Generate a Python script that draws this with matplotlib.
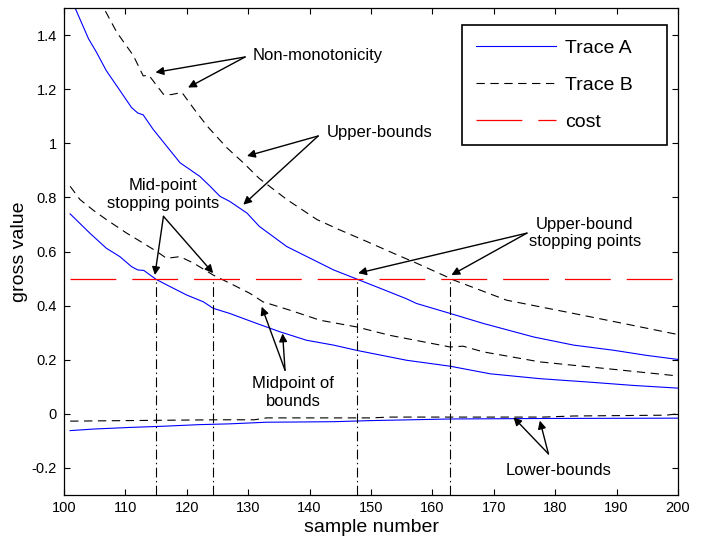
import matplotlib
matplotlib.use("Agg")
import matplotlib.pyplot as plt
from matplotlib.lines import Line2D

plt.rcParams['font.family'] = ['Liberation Sans', 'DejaVu Sans']
plt.rcParams['lines.scale_dashes'] = False

# ---------------- data ----------------
a_up_x = [101, 102, 104, 105.3, 106.9, 108.6, 111.0, 112.0, 112.9, 114.5, 116.7, 118.9, 120.5,
          122.1, 123.8, 125.4, 127.0, 129.8, 131.8, 136.3, 140.1, 143.9, 147.7, 151.5, 155.8,
          157.4, 162.9, 168.3, 176.5, 183.0, 189.5, 194.9, 200]
a_up_y = [1.54, 1.49, 1.386, 1.336, 1.268, 1.212, 1.132, 1.112, 1.105, 1.052, 0.99, 0.928, 0.903,
          0.878, 0.841, 0.804, 0.785, 0.742, 0.693, 0.618, 0.575, 0.532, 0.498, 0.464, 0.425,
          0.408, 0.371, 0.334, 0.284, 0.254, 0.235, 0.216, 0.201]

a_mid_x = [101, 104.2, 106.9, 109.1, 111.0, 112.0, 113.0, 115.0, 117.3, 120.0, 122.7, 124.3, 127.0,
           131.4, 135.2, 139.5, 143.9, 147.8, 155.8, 162.9, 169.4, 177.5, 185.7, 192.7, 200]
a_mid_y = [0.739, 0.668, 0.612, 0.581, 0.544, 0.532, 0.530, 0.497, 0.470, 0.439, 0.414, 0.390, 0.371,
           0.334, 0.303, 0.272, 0.254, 0.234, 0.198, 0.176, 0.148, 0.130, 0.117, 0.105, 0.095]

a_low_x = [101, 105, 111, 116, 122, 127, 133, 139, 144, 150, 163, 180, 200]
a_low_y = [-0.062, -0.056, -0.050, -0.046, -0.040, -0.037, -0.031, -0.030, -0.029, -0.025,
           -0.019, -0.017, -0.016]

b_up_x = [105, 106.4, 108.6, 111.3, 112.9, 113.8, 116.2, 117.5, 119.2, 121.2, 123.3, 126.5, 129.2,
          131.8, 136.3, 141.2, 144.9, 149.3, 153.6, 157.4, 162.3, 163.4, 172.1, 183.0, 191.1, 200]
b_up_y = [1.56, 1.503, 1.41, 1.324, 1.249, 1.252, 1.181, 1.180, 1.188, 1.126, 1.064, 0.984, 0.928,
          0.870, 0.792, 0.718, 0.680, 0.637, 0.594, 0.557, 0.507, 0.495, 0.420, 0.371, 0.334, 0.293]

b_mid_x = [101, 102.6, 104.8, 106.9, 110.2, 112.9, 115.1, 116.7, 118.9, 121.1, 124.3, 127.6, 130.3,
           132.4, 136.8, 141.7, 147.7, 153.1, 162.9, 165.0, 168.3, 177.5, 188.4, 200]
b_mid_y = [0.841, 0.792, 0.752, 0.718, 0.668, 0.631, 0.600, 0.575, 0.581, 0.557, 0.513, 0.476, 0.445,
           0.414, 0.383, 0.346, 0.321, 0.290, 0.247, 0.250, 0.229, 0.192, 0.167, 0.140]

b_low_x = [101, 115, 125, 131, 133, 150, 153, 178, 183, 198, 200]
b_low_y = [-0.027, -0.024, -0.022, -0.022, -0.015, -0.015, -0.012, -0.012, -0.008, -0.005, 0.0]

cost_value = 0.5
stop_x = [115.0, 124.3, 147.8, 162.9]

x_ticks = [100, 110, 120, 130, 140, 150, 160, 170, 180, 190, 200]
y_ticks = [-0.2, 0, 0.2, 0.4, 0.6, 0.8, 1, 1.2, 1.4]
y_ticklabels = ['-0.2', '0', '0.2', '0.4', '0.6', '0.8', '1', '1.2', '1.4']

labels = {
    'nonmono': 'Non-monotonicity',
    'upper': 'Upper-bounds',
    'midstop': 'Mid-point\nstopping points',
    'midb': 'Midpoint of\nbounds',
    'upstop': 'Upper-bound\nstopping points',
    'lower': 'Lower-bounds',
}

# ---------------- figure ----------------
fig = plt.figure(figsize=(7.04, 5.38), dpi=100)
ax = fig.add_axes([64 / 704, 1 - 495 / 538, 614 / 704, 487 / 538])

blue = '#0000ff'
dash_b = (0, (6, 4))
lw = 0.8

ax.plot(a_up_x, a_up_y, color=blue, lw=lw)
ax.plot(a_mid_x, a_mid_y, color=blue, lw=lw)
ax.plot(a_low_x, a_low_y, color=blue, lw=lw)
ax.plot(b_up_x, b_up_y, color='k', lw=lw, linestyle=dash_b)
ax.plot(b_mid_x, b_mid_y, color='k', lw=lw, linestyle=dash_b)
ax.plot(b_low_x, b_low_y, color='k', lw=lw, linestyle=dash_b)

cost_ls = (0, (33, 11.5))
ax.plot([101, 200], [cost_value, cost_value], color='red', lw=0.9, linestyle=cost_ls)

for sx in stop_x:
    ax.plot([sx, sx], [-0.3, cost_value], color='k', lw=lw, linestyle=(0, (7, 2.5, 1, 2.5)))

ax.set_xlim(100, 200)
ax.set_ylim(-0.3, 1.5)
ax.set_xticks(x_ticks)
ax.set_xticklabels([str(t) for t in x_ticks])
ax.set_yticks(y_ticks)
ax.set_yticklabels(y_ticklabels)
ax.tick_params(direction='in', top=True, right=True, length=4, width=0.8, labelsize=10.5)
ax.tick_params(axis='x', pad=4)
ax.tick_params(axis='y', pad=5)
for s in ax.spines.values():
    s.set_linewidth(0.9)

ax.set_xlabel('sample number', fontsize=14, va='center')
ax.xaxis.set_label_coords(0.5, (495 - 528) / 487)
ax.set_ylabel('gross value', fontsize=14, va='center')
ax.yaxis.set_label_coords((20 - 64) / 614, 0.5)

# annotations
afs = 12
ap = dict(arrowstyle='-|>', color='k', lw=1.0, mutation_scale=12, shrinkA=0, shrinkB=0)

def arrows(tail, heads):
    for h in heads:
        ax.annotate('', xy=h, xytext=tail, arrowprops=ap)

ax.text(130.8, 1.324, labels['nonmono'], fontsize=afs, ha='left', va='center')
arrows((129.5, 1.319), [(114.9, 1.262), (120.2, 1.206)])

ax.text(142.8, 1.039, labels['upper'], fontsize=afs, ha='left', va='center')
arrows((141.4, 1.027), [(129.8, 0.953), (129.2, 0.773)])

ax.text(116.2, 0.81, labels['midstop'], fontsize=afs, ha='center', va='center', linespacing=1.2)
arrows((116.2, 0.73), [(114.8, 0.513), (124.3, 0.52)])

ax.text(137.3, 0.079, labels['midb'], fontsize=afs, ha='center', va='center', linespacing=1.2)
arrows((136.0, 0.161), [(132.2, 0.396), (135.6, 0.297)])

ax.text(184.8, 0.669, labels['upstop'], fontsize=afs, ha='center', va='center', linespacing=1.2)
arrows((175.4, 0.668), [(147.9, 0.52), (163.1, 0.513)])

ax.text(180.5, -0.21, labels['lower'], fontsize=afs, ha='center', va='center')
arrows((178.9, -0.148), [(173.2, -0.013), (177.5, -0.025)])

# legend
handles = [
    Line2D([], [], color=blue, lw=lw),
    Line2D([], [], color='k', lw=lw, linestyle=dash_b),
    Line2D([], [], color='red', lw=0.9, linestyle=cost_ls),
]
leg = ax.legend(handles, ['Trace A', 'Trace B', 'cost'], loc='upper left',
                bbox_to_anchor=(0.648, 0.721, 0.334, 0.244), mode='expand',
                borderaxespad=0, fontsize=14, handlelength=4.1, handletextpad=0.45,
                labelspacing=0.98, borderpad=0.75, fancybox=False, framealpha=1)
leg.get_frame().set_edgecolor('k')
leg.get_frame().set_linewidth(1.2)

fig.savefig('out.png', dpi=100)
